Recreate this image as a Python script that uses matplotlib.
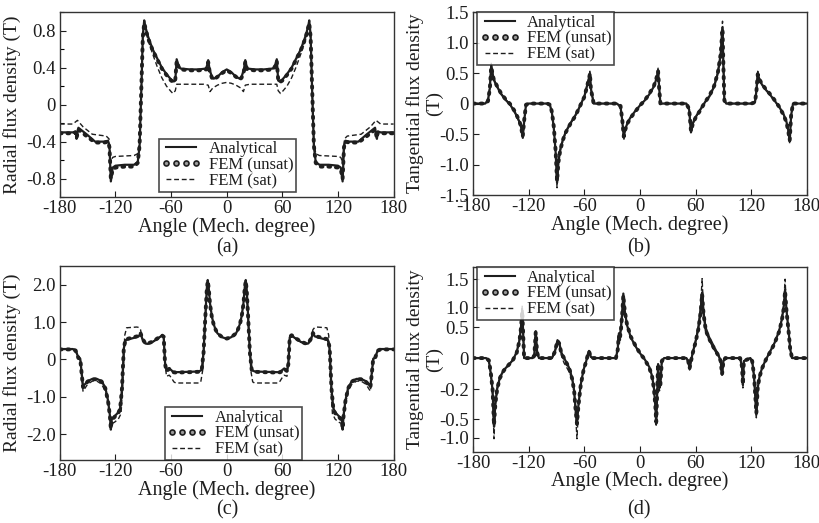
import matplotlib
matplotlib.use("Agg")
import matplotlib.pyplot as plt
from matplotlib.lines import Line2D
from matplotlib.ticker import MultipleLocator

plt.rcParams['font.family'] = ['Liberation Serif', 'DejaVu Serif']
plt.rcParams['axes.unicode_minus'] = False
plt.rcParams['text.color'] = '#1e1e1e'

# ---------------- (a) radial flux density, slotted stator ----------------
a_ang = [-180, -166, -163, -162, -160, -150, -142, -132, -128, -126.5,
         -125, -123, -120, -110, -100, -96, -94, -92, -90.5, -89,
         -88, -85, -80, -75, -70, -65, -60, -57, -55.5, -54,
         -52, -50, -40, -30, -22, -20, -18.5, -16, -14, -10,
         -5, 0,
         5, 10, 14, 16, 18.5, 20, 22, 30, 40, 50,
         52, 54, 55.5, 57, 60, 65, 70, 75, 80, 85,
         88, 89, 90.5, 92, 94, 96, 100, 110, 120, 123,
         125, 126.5, 128, 132, 142, 150, 160, 162, 163, 166, 180]
a_ana = [-0.30, -0.30, -0.29, -0.37, -0.25, -0.33, -0.40, -0.40, -0.39, -0.45,
         -0.83, -0.68, -0.66, -0.65, -0.65, -0.62, -0.45, 0.20, 0.75, 0.91,
         0.85, 0.74, 0.60, 0.50, 0.40, 0.33, 0.27, 0.25, 0.26, 0.49,
         0.42, 0.39, 0.38, 0.38, 0.39, 0.48, 0.38, 0.30, 0.28, 0.30,
         0.35, 0.38,
         0.35, 0.30, 0.28, 0.30, 0.38, 0.48, 0.39, 0.38, 0.38, 0.39,
         0.42, 0.49, 0.26, 0.25, 0.27, 0.33, 0.40, 0.50, 0.60, 0.74,
         0.85, 0.91, 0.75, 0.20, -0.45, -0.62, -0.65, -0.65, -0.66, -0.68,
         -0.83, -0.45, -0.39, -0.40, -0.40, -0.33, -0.25, -0.37, -0.29, -0.30, -0.30]
a_uns = [-0.31, -0.31, -0.30, -0.36, -0.27, -0.35, -0.41, -0.41, -0.40, -0.46,
         -0.80, -0.70, -0.68, -0.67, -0.67, -0.63, -0.44, 0.22, 0.73, 0.88,
         0.84, 0.72, 0.59, 0.49, 0.39, 0.32, 0.26, 0.24, 0.27, 0.47,
         0.41, 0.38, 0.37, 0.37, 0.38, 0.46, 0.36, 0.29, 0.27, 0.30,
         0.34, 0.37,
         0.34, 0.30, 0.27, 0.29, 0.36, 0.46, 0.38, 0.37, 0.37, 0.38,
         0.41, 0.47, 0.27, 0.24, 0.26, 0.32, 0.39, 0.49, 0.59, 0.72,
         0.84, 0.88, 0.73, 0.22, -0.44, -0.63, -0.67, -0.67, -0.68, -0.70,
         -0.80, -0.46, -0.40, -0.41, -0.41, -0.35, -0.27, -0.36, -0.30, -0.31, -0.31]
a_sat_ang = [-180, -166, -161, -155, -145, -130, -127, -125, -123, -120,
             -100, -96, -94, -92, -90.5, -89, -88, -85, -80, -75,
             -70, -65, -60, -58, -55.5, -54, -50, -25, -20, -18,
             -15, -10, -5, 0,
             5, 10, 15, 18, 20, 25, 50, 54, 55.5, 58,
             60, 65, 70, 75, 80, 85, 88, 89, 90.5, 92,
             94, 96, 100, 120, 123, 125, 127, 130, 145, 155,
             161, 166, 180]
a_sat = [-0.21, -0.21, -0.17, -0.24, -0.32, -0.34, -0.37, -0.62, -0.57, -0.56,
         -0.55, -0.53, -0.40, 0.20, 0.72, 0.88, 0.83, 0.70, 0.55, 0.41,
         0.29, 0.20, 0.14, 0.12, 0.15, 0.22, 0.22, 0.22, 0.21, 0.14,
         0.18, 0.21, 0.23, 0.24,
         0.23, 0.21, 0.18, 0.14, 0.21, 0.22, 0.22, 0.22, 0.15, 0.12,
         0.14, 0.20, 0.29, 0.41, 0.55, 0.70, 0.83, 0.88, 0.72, 0.20,
         -0.40, -0.53, -0.55, -0.56, -0.57, -0.62, -0.37, -0.34, -0.32, -0.24,
         -0.17, -0.21, -0.21]

# ---------------- (b) tangential flux density ----------------
b_ang = [-180, -167, -164, -162, -160.5, -158, -155, -150, -145, -140,
         -135, -130, -128, -126.5, -125, -123, -120, -100, -97, -95,
         -93, -91, -89.5, -88, -86, -83, -80, -75, -70, -65,
         -60, -57, -55, -54, -53, -50, -25, -21, -19, -17.5,
         -16, -13, -10, -5, 0, 5, 10, 15, 18, 19.5,
         20.5, 22, 50, 53, 55, 57, 60, 65, 70, 75,
         80, 84, 87, 89, 90, 91, 93, 120, 124, 125.5,
         127, 129, 132, 136, 140, 145, 150, 155, 158, 160,
         161.5, 163, 165, 180]
b_ana = [0, 0, 0.05, 0.25, 0.62, 0.40, 0.30, 0.16, 0.06, -0.02,
         -0.14, -0.30, -0.40, -0.56, -0.30, -0.02, 0, 0, -0.03, -0.15,
         -0.40, -0.80, -1.30, -0.95, -0.75, -0.58, -0.46, -0.32, -0.20, -0.05,
         0.12, 0.30, 0.42, 0.50, 0.25, 0, 0, -0.05, -0.30, -0.56,
         -0.42, -0.30, -0.22, -0.12, -0.03, 0.05, 0.15, 0.28, 0.42, 0.55,
         0.30, 0, 0, -0.10, -0.47, -0.32, -0.22, -0.10, 0.02, 0.12,
         0.28, 0.50, 0.80, 1.25, 0.60, 0.05, 0, 0, 0.02, 0.20,
         0.50, 0.38, 0.30, 0.22, 0.15, 0.05, -0.05, -0.18, -0.30, -0.45,
         -0.62, -0.20, 0, 0]
b_uns = [0, 0, 0.04, 0.24, 0.60, 0.41, 0.31, 0.17, 0.07, -0.01,
         -0.13, -0.29, -0.41, -0.54, -0.28, -0.02, 0, 0, -0.02, -0.14,
         -0.38, -0.78, -1.27, -0.96, -0.76, -0.59, -0.47, -0.33, -0.21, -0.05,
         0.11, 0.29, 0.41, 0.49, 0.24, 0, 0, -0.04, -0.29, -0.54,
         -0.43, -0.31, -0.23, -0.13, -0.03, 0.05, 0.16, 0.29, 0.43, 0.53,
         0.28, 0, 0, -0.09, -0.45, -0.33, -0.23, -0.11, 0.02, 0.13,
         0.29, 0.51, 0.81, 1.22, 0.58, 0.05, 0, 0, 0.02, 0.19,
         0.48, 0.39, 0.31, 0.23, 0.16, 0.06, -0.05, -0.19, -0.31, -0.46,
         -0.60, -0.19, 0, 0]
b_sat = [0, 0, 0.05, 0.27, 0.66, 0.42, 0.31, 0.17, 0.07, -0.02,
         -0.15, -0.31, -0.42, -0.58, -0.30, -0.02, 0, 0, -0.03, -0.16,
         -0.42, -0.85, -1.38, -1.00, -0.78, -0.60, -0.47, -0.33, -0.21, -0.06,
         0.12, 0.31, 0.44, 0.53, 0.25, 0, 0, -0.05, -0.32, -0.60,
         -0.44, -0.31, -0.23, -0.12, -0.03, 0.05, 0.15, 0.29, 0.44, 0.58,
         0.30, 0, 0, -0.10, -0.50, -0.34, -0.23, -0.10, 0.02, 0.13,
         0.29, 0.52, 0.84, 1.35, 0.62, 0.05, 0, 0, 0.02, 0.21,
         0.53, 0.40, 0.31, 0.23, 0.15, 0.05, -0.06, -0.19, -0.32, -0.47,
         -0.66, -0.20, 0, 0]

# ---------------- (c) radial flux density, second case ----------------
c_ang = [-180, -166, -163, -160, -158, -156.5, -155, -150, -145, -140,
         -135, -131, -128, -126, -125, -124, -121, -117, -115, -113,
         -111, -109, -100, -95, -93, -91, -88, -85, -80, -75,
         -70, -68, -66.5, -65, -62, -60, -58, -55, -40, -30,
         -27, -25, -23, -21.5, -20.5, -19.5, -18, -16, -14, -12,
         -10, -5, 0,
         5, 10, 12, 14, 16, 18, 19.5, 20.5, 21.5, 23,
         25, 27, 30, 40, 55, 58, 60, 62, 65, 66.5,
         68, 70, 75, 80, 85, 88, 91, 93, 95, 100,
         109, 111, 113, 115, 117, 121, 124, 125, 126, 128,
         131, 135, 140, 145, 150, 155, 156.5, 158, 160, 163,
         166, 180]
c_ana = [0.28, 0.28, 0.25, 0.05, 0.02, -0.35, -0.72, -0.58, -0.52, -0.52,
         -0.58, -0.75, -1.10, -1.50, -1.88, -1.60, -1.52, -1.42, -1.30, -0.80,
         0.30, 0.52, 0.58, 0.62, 0.70, 0.55, 0.43, 0.42, 0.47, 0.55,
         0.64, 0.60, -0.10, -0.30, -0.24, -0.28, -0.33, -0.34, -0.33, -0.32,
         -0.28, 0.20, 1.20, 1.90, 2.13, 1.95, 1.50, 1.15, 0.94, 0.80,
         0.70, 0.60, 0.55,
         0.60, 0.70, 0.80, 0.94, 1.15, 1.50, 1.95, 2.13, 1.90, 1.20,
         0.20, -0.28, -0.32, -0.33, -0.34, -0.33, -0.28, -0.24, -0.30, -0.10,
         0.60, 0.64, 0.55, 0.47, 0.42, 0.43, 0.55, 0.70, 0.62, 0.58,
         0.52, 0.30, -0.80, -1.30, -1.42, -1.52, -1.60, -1.88, -1.50, -1.10,
         -0.75, -0.58, -0.52, -0.52, -0.58, -0.72, -0.35, 0.02, 0.05, 0.25,
         0.28, 0.28]
c_uns = [0.27, 0.27, 0.24, 0.04, 0.02, -0.38, -0.74, -0.59, -0.53, -0.53,
         -0.59, -0.77, -1.12, -1.52, -1.85, -1.62, -1.54, -1.44, -1.32, -0.78,
         0.32, 0.54, 0.60, 0.63, 0.71, 0.56, 0.44, 0.43, 0.48, 0.56,
         0.65, 0.61, -0.12, -0.31, -0.25, -0.29, -0.34, -0.35, -0.34, -0.33,
         -0.29, 0.18, 1.18, 1.88, 2.10, 1.93, 1.48, 1.13, 0.93, 0.80,
         0.70, 0.60, 0.56,
         0.60, 0.70, 0.80, 0.93, 1.13, 1.48, 1.93, 2.10, 1.88, 1.18,
         0.18, -0.29, -0.33, -0.34, -0.35, -0.34, -0.29, -0.25, -0.31, -0.12,
         0.61, 0.65, 0.56, 0.48, 0.43, 0.44, 0.56, 0.71, 0.63, 0.60,
         0.54, 0.32, -0.78, -1.32, -1.44, -1.54, -1.62, -1.85, -1.52, -1.12,
         -0.77, -0.59, -0.53, -0.53, -0.59, -0.74, -0.38, 0.02, 0.04, 0.24,
         0.27, 0.27]
c_sat_ang = [-180, -166, -163, -160, -158, -156.5, -155, -150, -145, -140,
             -135, -131, -128, -126, -125, -124, -121, -117, -114, -112,
             -110, -108, -97, -95, -93, -91, -88, -85, -80, -75,
             -70, -68, -66.5, -65, -62, -60, -57, -55, -40, -30,
             -28, -26, -24, -22, -20.5, -19.5, -18, -16, -14, -12,
             -10, -5, 0,
             5, 10, 12, 14, 16, 18, 19.5, 20.5, 22, 24,
             26, 28, 30, 40, 55, 57, 60, 62, 65, 66.5,
             68, 70, 75, 80, 85, 88, 91, 93, 95, 97,
             108, 110, 112, 114, 117, 121, 124, 125, 126, 128,
             131, 135, 140, 145, 150, 155, 156.5, 158, 160, 163,
             166, 180]
c_sat = [0.27, 0.27, 0.24, 0.04, 0.00, -0.45, -0.85, -0.66, -0.58, -0.58,
         -0.66, -0.85, -1.20, -1.60, -1.80, -1.72, -1.68, -1.60, -1.45, -0.60,
         0.65, 0.85, 0.87, 0.86, 0.80, 0.55, 0.43, 0.42, 0.47, 0.55,
         0.64, 0.60, -0.10, -0.45, -0.42, -0.48, -0.60, -0.63, -0.63, -0.63,
         -0.60, -0.30, 0.60, 1.60, 2.05, 1.90, 1.45, 1.12, 0.92, 0.78,
         0.69, 0.59, 0.56,
         0.59, 0.69, 0.78, 0.92, 1.12, 1.45, 1.90, 2.05, 1.60, 0.60,
         -0.30, -0.60, -0.63, -0.63, -0.63, -0.60, -0.48, -0.42, -0.45, -0.10,
         0.60, 0.64, 0.55, 0.47, 0.42, 0.43, 0.55, 0.80, 0.86, 0.87,
         0.85, 0.65, -0.60, -1.45, -1.60, -1.68, -1.72, -1.80, -1.60, -1.20,
         -0.85, -0.66, -0.58, -0.58, -0.66, -0.85, -0.45, 0.00, 0.04, 0.24,
         0.27, 0.27]

# ---------------- (d) tangential flux density, second case ----------------
d_ang = [-180, -166, -163, -161, -159, -157.5, -156, -154, -151, -147,
         -142, -137, -133, -130, -128.5, -127, -126, -125, -116, -114,
         -112.5, -111, -109, -95, -92, -89, -87, -85, -82, -79,
         -76, -73, -71, -69.5, -68, -66.5, -64, -61, -58, -56,
         -55, -53, -51, -26, -24, -23, -22, -20.5, -19, -18,
         -16.5, -14, -10, -5, 0, 5, 10, 13, 15, 16.5,
         17.5, 18.5, 19.5, 21, 22, 23.5, 26, 50, 52, 53.5,
         55, 57, 60, 63, 65.5, 67, 68.5, 71, 75, 80,
         85, 87, 88.5, 90, 92, 108, 110, 111, 112, 119,
         121, 123, 125.5, 127, 129, 132, 136, 140, 145, 150,
         153, 155, 156.5, 158, 160, 162, 164, 180]
d_ana = [0, 0, -0.05, -0.25, -0.55, -1.15, -0.75, -0.50, -0.32, -0.20,
         -0.12, -0.03, 0.10, 0.30, 0.50, 0.80, 0.40, 0.0, 0, 0.05,
         0.45, 0.10, 0, 0, 0.10, 0.30, 0.25, 0.10, 0.0, -0.08,
         -0.18, -0.35, -0.55, -0.85, -1.12, -0.80, -0.45, -0.20, -0.05, 0.08,
         0.12, 0.02, 0, 0, 0.15, 0.38, 0.30, 0.50, 0.80, 1.08,
         0.80, 0.55, 0.35, 0.20, 0.08, -0.02, -0.15, -0.30, -0.50, -0.80,
         -1.10, -0.60, -0.10, -0.50, -0.45, -0.05, 0, 0, -0.05, -0.18,
         -0.05, 0.10, 0.28, 0.50, 0.80, 1.10, 0.75, 0.45, 0.30, 0.15,
         0.03, -0.05, -0.28, -0.05, 0, 0, -0.15, -0.45, -0.05, 0,
         -0.05, -0.30, -0.95, -0.50, -0.30, -0.15, -0.02, 0.10, 0.25, 0.45,
         0.65, 0.85, 1.15, 0.80, 0.50, 0.15, 0, 0]
d_uns = [0, 0, -0.04, -0.24, -0.53, -1.12, -0.76, -0.51, -0.33, -0.21,
         -0.12, -0.03, 0.09, 0.29, 0.49, 0.78, 0.38, 0.0, 0, 0.04,
         0.43, 0.09, 0, 0, 0.10, 0.29, 0.24, 0.09, 0.0, -0.09,
         -0.19, -0.36, -0.56, -0.86, -1.10, -0.81, -0.46, -0.21, -0.05, 0.07,
         0.11, 0.02, 0, 0, 0.14, 0.36, 0.29, 0.49, 0.78, 1.05,
         0.79, 0.56, 0.36, 0.21, 0.08, -0.02, -0.16, -0.31, -0.51, -0.79,
         -1.07, -0.58, -0.10, -0.48, -0.44, -0.05, 0, 0, -0.05, -0.17,
         -0.05, 0.09, 0.27, 0.49, 0.78, 1.07, 0.74, 0.46, 0.31, 0.16,
         0.03, -0.05, -0.27, -0.05, 0, 0, -0.14, -0.44, -0.05, 0,
         -0.05, -0.29, -0.92, -0.49, -0.31, -0.16, -0.02, 0.09, 0.24, 0.44,
         0.63, 0.83, 1.12, 0.79, 0.49, 0.15, 0, 0]
d_sat = [0, 0, -0.05, -0.28, -0.62, -1.35, -0.80, -0.52, -0.33, -0.21,
         -0.12, -0.03, 0.10, 0.32, 0.55, 0.88, 0.42, 0.0, 0, 0.05,
         0.42, 0.10, 0, 0, 0.08, 0.28, 0.22, 0.05, -0.08, -0.16,
         -0.24, -0.38, -0.60, -0.95, -1.35, -0.85, -0.47, -0.21, -0.05, 0.08,
         0.12, 0.02, 0, 0, 0.25, 0.45, 0.35, 0.55, 0.85, 1.02,
         0.82, 0.56, 0.36, 0.20, 0.08, -0.02, -0.15, -0.31, -0.52, -0.85,
         -1.15, -0.62, -0.10, -0.55, -0.45, -0.05, 0, 0, -0.06, -0.20,
         -0.05, 0.10, 0.30, 0.55, 0.90, 1.33, 0.82, 0.52, 0.35, 0.20,
         0.05, -0.05, -0.30, -0.05, 0, 0, -0.17, -0.50, -0.05, 0,
         -0.05, -0.32, -1.00, -0.52, -0.31, -0.15, -0.02, 0.10, 0.26, 0.47,
         0.68, 0.90, 1.32, 0.82, 0.50, 0.15, 0, 0]

x_ticks = [-180, -120, -60, 0, 60, 120, 180]
d_tick_pos = [1.32, 0.85, 0.52, 0, -0.52, -1.02, -1.33]
d_tick_lab = ['1.5', '1.0', '0.5', '0', '-0.2', '-0.5', '-1.0']

ink = '#1e1e1e'
uns_style = dict(color=ink, lw=2.8, ls=(0, (0.45, 1.5)), dash_capstyle='round')
sat_style = dict(color=ink, lw=1.0, ls=(0, (3.5, 2)))

fig = plt.figure(figsize=(8.2, 5.23), dpi=100)


def panel(rect, ang, ana, uns, s_ang, sat, ylim, ylabel, label_x, leg_loc, leg_anchor):
    ax = fig.add_axes(rect)
    ax.plot(ang, uns, **uns_style)
    ax.plot(ang, ana, color=ink, lw=1.6)
    ax.plot(s_ang, sat, **sat_style)
    ax.set_xlim(-180, 180)
    ax.set_ylim(*ylim)
    ax.set_xticks(x_ticks)
    ax.tick_params(direction='in', labelsize=13.5, colors=ink, length=4, width=0.8, pad=2)
    ax.tick_params(axis='y', pad=3)
    for s in ax.spines.values():
        s.set_linewidth(1.0)
        s.set_color('#333333')
    ax.set_xlabel('Angle (Mech. degree)', fontsize=14.5, labelpad=0, color=ink)
    ax.set_ylabel(ylabel, fontsize=14, color=ink, linespacing=1.1)
    ax.yaxis.set_label_coords(label_x, 0.5)
    handles = [Line2D([], [], color=ink, lw=1.5),
               Line2D([], [], ls='none', marker='o', ms=3.6, mfc='#9a9a9a', mec=ink, mew=1.2),
               Line2D([], [], **sat_style)]
    leg = ax.legend(handles, ['Analytical', 'FEM (unsat)', 'FEM (sat)'], loc=leg_loc,
                    bbox_to_anchor=leg_anchor, fontsize=12, frameon=True, fancybox=False,
                    borderaxespad=0, borderpad=0.15, labelspacing=0.0, handlelength=2.4,
                    handletextpad=0.45, numpoints=4)
    leg.get_frame().set_edgecolor(ink)
    leg.get_frame().set_linewidth(1.2)
    return ax


ax_a = panel([0.073, 0.623, 0.407, 0.354], a_ang, a_ana, a_uns, a_sat_ang, a_sat, (-1.0, 1.0),
             'Radial flux density (T)', -0.115, 'lower left', (0.296, 0.03))
ax_a.set_yticks([-0.8, -0.4, 0, 0.4, 0.8])
ax_a.set_yticklabels(['-0.8', '-0.4', '0', '0.4', '0.8'])
ax_a.yaxis.set_minor_locator(MultipleLocator(0.2))
ax_a.tick_params(which='minor', direction='in', length=3, width=0.8)

ax_b = panel([0.577, 0.627, 0.407, 0.350], b_ang, b_ana, b_uns, b_ang, b_sat, (-1.5, 1.5),
             'Tangential flux density\n(T)', -0.09, 'upper left', (0.012, 1.0))
ax_b.set_yticks([-1.5, -1.0, -0.5, 0, 0.5, 1.0, 1.5])
ax_b.set_yticklabels(['-1.5', '-1.0', '-0.5', '0', '0.5', '1.0', '1.5'])

ax_c = panel([0.073, 0.120, 0.407, 0.371], c_ang, c_ana, c_uns, c_sat_ang, c_sat, (-2.7, 2.5),
             'Radial flux density (T)', -0.115, 'lower left', (0.314, 0.0))
ax_c.set_yticks([-2.0, -1.0, 0, 1.0, 2.0])
ax_c.set_yticklabels(['-2.0', '-1.0', '0', '1.0', '2.0'])

ax_d = panel([0.577, 0.136, 0.407, 0.353], d_ang, d_ana, d_uns, d_ang, d_sat, (-1.57, 1.52),
             'Tangential flux density\n(T)', -0.09, 'upper left', (0.012, 1.0))
ax_d.set_yticks(d_tick_pos)
ax_d.set_yticklabels(d_tick_lab)

for lab, x, y in [('(a)', 227, 248), ('(b)', 639, 248), ('(c)', 227, 510), ('(d)', 639, 510)]:
    fig.text(x / 820, 1 - y / 523, lab, ha='center', va='center', fontsize=14.5, color=ink)

fig.savefig('out.png', dpi=100)
